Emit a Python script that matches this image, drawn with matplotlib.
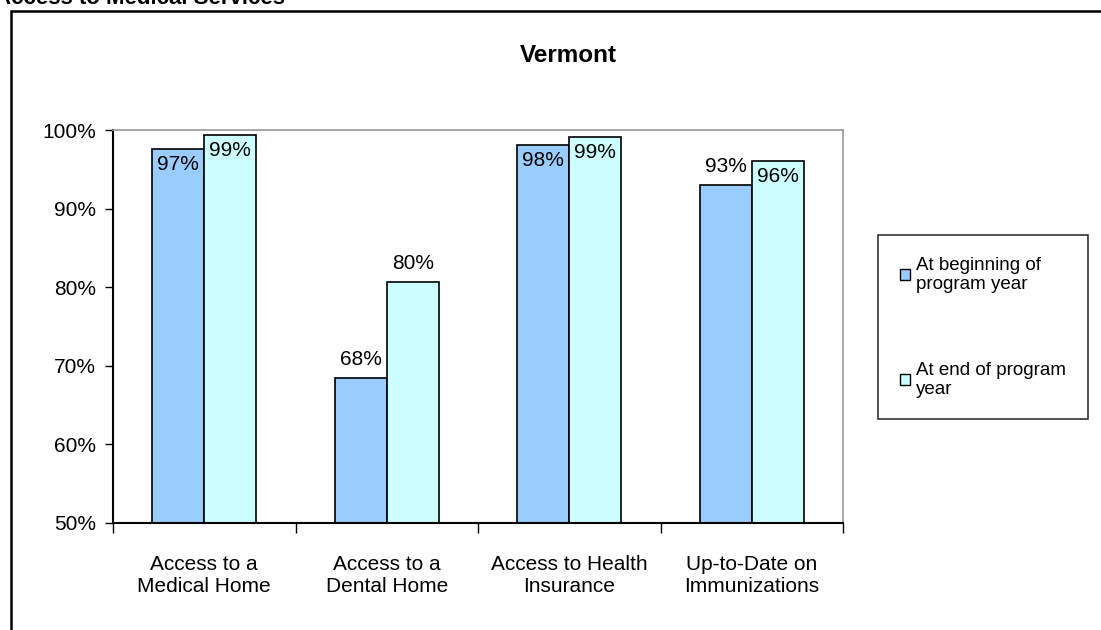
import matplotlib.pyplot as plt
from matplotlib.patches import Rectangle, Patch

categories = ["Access to a\nMedical Home", "Access to a\nDental Home",
              "Access to Health\nInsurance", "Up-to-Date on\nImmunizations"]
beginning = [97.6, 68.4, 98.1, 93.0]
end = [99.4, 80.6, 99.1, 96.1]
beginning_labels = ["97%", "68%", "98%", "93%"]
end_labels = ["99%", "80%", "99%", "96%"]
yticks = [50, 60, 70, 80, 90, 100]

plt.rcParams['font.family'] = ['Liberation Sans', 'DejaVu Sans']

fig = plt.figure(figsize=(11.01, 6.30), dpi=100)

# outer chart frame (runs off the right and bottom edge)
fig.patches.append(Rectangle((11 / 1101, -0.05), 1.2, 1 - 11 / 630 + 0.05,
                             transform=fig.transFigure, fill=False,
                             edgecolor="black", linewidth=1.8))
# clipped heading from the page above
fig.text(285 / 1101, 1 - 4 / 630, "Access to Medical Services", ha="right",
         va="baseline", fontsize=16, fontweight="bold")
fig.text(568 / 1101, 1 - 55 / 630, "Vermont", ha="center", va="center",
         fontsize=17.5, fontweight="bold")

ax = fig.add_axes([113 / 1101, 1 - 523 / 630, 730 / 1101, 393 / 630])

x = range(len(categories))
w = 0.285
off = 0.143
ax.bar([i - off for i in x], beginning, w, bottom=0, color="#99CCFF",
       edgecolor="black", linewidth=1.2)
ax.bar([i + off for i in x], end, w, bottom=0, color="#CCFFFF",
       edgecolor="black", linewidth=1.2)

def place(v):
    # labels that would run past the top sit just inside the bar
    return v + 2.4 if v + 2.4 <= 98 else v - 2.0

for i in x:
    ax.text(i - off, place(beginning[i]), beginning_labels[i], ha="center",
            va="center", fontsize=15)
    ax.text(i + off, place(end[i]), end_labels[i], ha="center",
            va="center", fontsize=15)

ax.set_ylim(50, 100)
ax.set_xlim(-0.5, 3.5)
ax.set_yticks(yticks)
ax.set_yticklabels([f"{t}%" for t in yticks], fontsize=15)
ax.set_xticks([i - 0.5 for i in range(len(categories) + 1)])
ax.set_xticklabels([])
ax.set_xticks(list(x), minor=True)
ax.set_xticklabels(categories, minor=True, fontsize=15, linespacing=1.2)
ax.tick_params(axis="x", which="minor", length=0, pad=23)
ax.tick_params(axis="x", which="major", length=7, direction="out", width=1)
ax.tick_params(axis="y", length=6, direction="out", width=1, pad=6)

for s in ["top", "right"]:
    ax.spines[s].set_color("#999999")
    ax.spines[s].set_linewidth(1.2)
for s in ["left", "bottom"]:
    ax.spines[s].set_color("black")
    ax.spines[s].set_linewidth(1.5)

leg = fig.legend(handles=[Patch(facecolor="#99CCFF", edgecolor="black", label="At beginning of\nprogram year"),
                          Patch(facecolor="#CCFFFF", edgecolor="black", label="At end of program\nyear")],
                 loc="upper left", bbox_to_anchor=(878 / 1101, 1 - 235 / 630),
                 fontsize=13.5, frameon=True, fancybox=False,
                 handlelength=0.55, handleheight=0.55, handletextpad=0.35,
                 labelspacing=3.7, borderpad=1.15, borderaxespad=0)
for t in leg.get_texts():
    t.set_linespacing(1.15)
leg.get_frame().set_edgecolor("black")
leg.get_frame().set_linewidth(1.2)

fig.savefig("out.png", dpi=100)
